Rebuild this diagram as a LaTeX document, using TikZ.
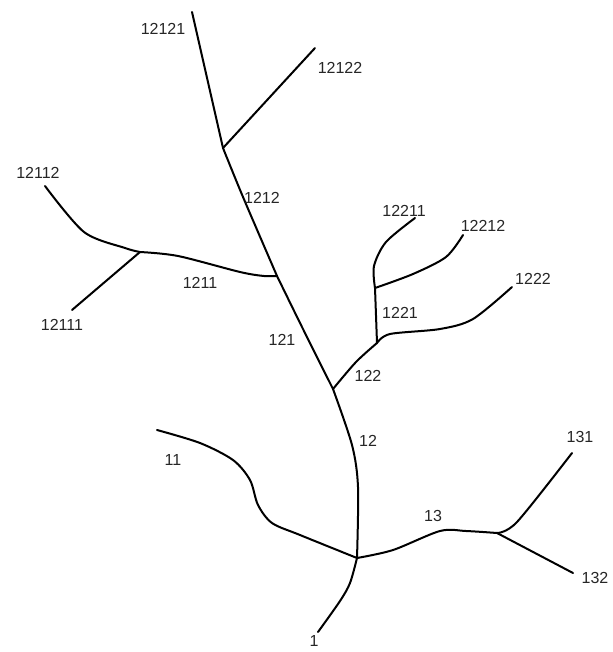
\documentclass[tikz,border=0pt]{standalone}
\usepackage{fontspec}
\setmainfont{Liberation Sans}
\usepackage{tikz}
\usetikzlibrary{positioning, calc}

\tikzset{
    stream/.style={line width=2pt, line cap=round, line join=round},
    order/.style={text=black!85, inner sep=0pt, font=\fontsize{16}{16}\selectfont}
}

\begin{document}
\begin{tikzpicture}[x=1pt, y=-1pt]
    \useasboundingbox (0,0) rectangle (612,652);

    % Junctions
    \coordinate (J1) at (357,558);
    \coordinate (J12) at (333,389);
    \coordinate (J13) at (497,533);
    \coordinate (J121) at (277,276);
    \coordinate (J122) at (377,343);
    \coordinate (J1211) at (140,252);
    \coordinate (J1212) at (223,148);
    \coordinate (J1221) at (375,288);

    % Outlet
    \draw[stream] plot[smooth] coordinates {(318,632) (340,601) (350,583) (J1)};

    % First order branches
    \draw[stream] plot[smooth] coordinates {(J1) (300,535) (272,523) (258,505) (250,480) (233,460) (200,443) (157,430)};
    \draw[stream] plot[smooth] coordinates {(J1) (358,487) (352,445) (J12)};
    \draw[stream] plot[smooth] coordinates {(J1) (393,550) (440,531) (466,531) (J13)};

    % Branches of 13
    \draw[stream] plot[smooth] coordinates {(J13) (517,522) (572,453)};
    \draw[stream] (J13) -- (573,573);

    % Branches of 12
    \draw[stream] plot[smooth] coordinates {(J12) (302,327) (J121)};
    \draw[stream] plot[smooth] coordinates {(J12) (356,362) (J122)};

    % Branches of 122
    \draw[stream] (J122) -- (J1221);
    \draw[stream] plot[smooth] coordinates {(J122) (390,334) (440,329) (473,319) (512,287)};
    \draw[stream] plot[smooth] coordinates {(J1221) (374,266) (386,242) (415,218)};
    \draw[stream] plot[smooth] coordinates {(J1221) (413,274) (446,257) (463,235)};

    % Branches of 121
    \draw[stream] plot[smooth] coordinates {(J121) (264,276) (240,272) (178,256) (J1211)};
    \draw[stream] plot[smooth] coordinates {(J121) (243,197) (J1212)};

    % Branches of 1211
    \draw[stream] (J1211) -- (72,310);
    \draw[stream] plot[smooth] coordinates {(J1211) (125,248) (84,232) (45,186)};

    % Branches of 1212
    \draw[stream] (J1212) -- (315,48);
    \draw[stream] (J1212) -- (192,12);

    % Labels
    \node[order] (l1) at (314,641) {1};
    \node[order] (l11) at (173,460) {11};
    \node[order] (l12) at (368,441) {12};
    \node[order] (l13) at (433,516) {13};
    \node[order] (l131) at (580,437) {131};
    \node[order] (l132) at (595,578) {132};
    \node[order] (l121) at (282,340) {121};
    \node[order] (l122) at (368,376) {122};
    \node[order] (l1211) at (200,283) {1211};
    \node[order] (l1212) at (262,198) {1212};
    \node[order] (l1221) at (400,313) {1221};
    \node[order] (l1222) at (533,279) {1222};
    \node[order] (l12111) at (62,325) {12111};
    \node[order] (l12112) at (38,173) {12112};
    \node[order] (l12121) at (163,29) {12121};
    \node[order] (l12122) at (340,68) {12122};
    \node[order] (l12211) at (404,211) {12211};
    \node[order] (l12212) at (483,226) {12212};
\end{tikzpicture}
\end{document}
